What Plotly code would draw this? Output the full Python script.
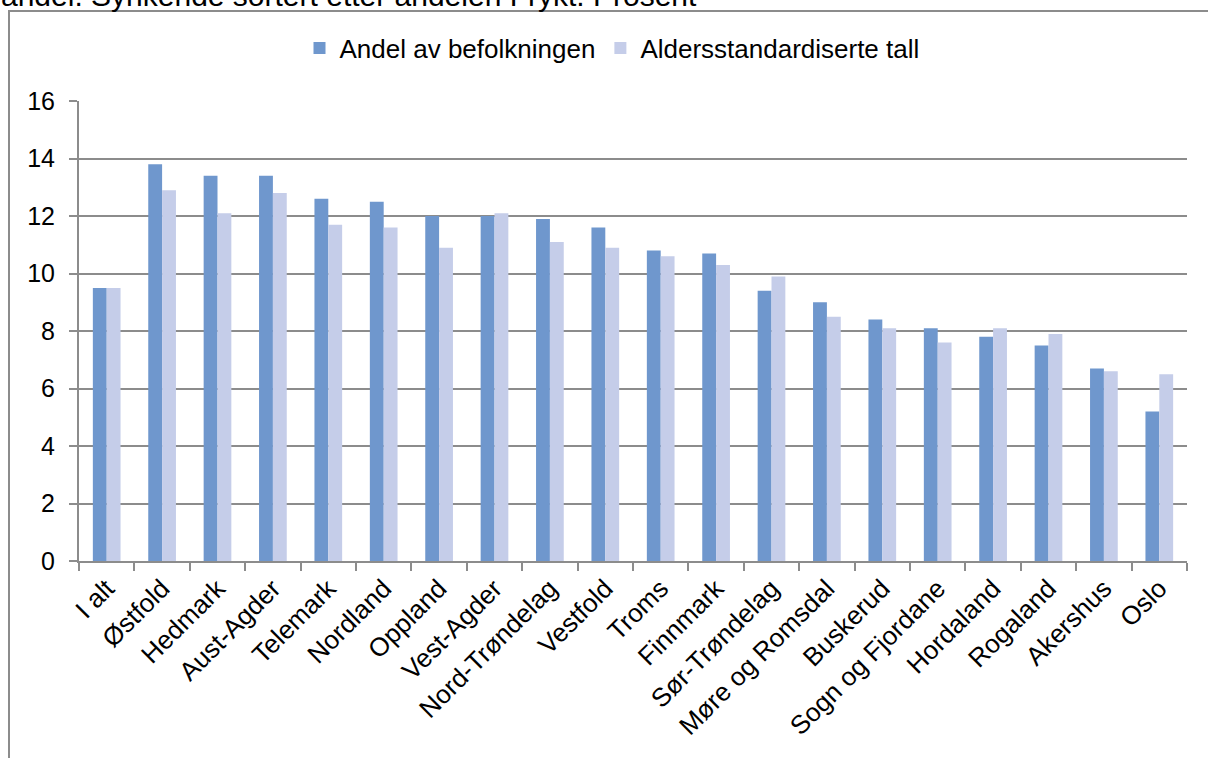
import plotly.graph_objects as go

categories = ["I alt", "Østfold", "Hedmark", "Aust-Agder", "Telemark", "Nordland",
              "Oppland", "Vest-Agder", "Nord-Trøndelag", "Vestfold", "Troms",
              "Finnmark", "Sør-Trøndelag", "Møre og Romsdal", "Buskerud",
              "Sogn og Fjordane", "Hordaland", "Rogaland", "Akershus", "Oslo"]
andel = [9.5, 13.8, 13.4, 13.4, 12.6, 12.5, 12.0, 12.0, 11.9, 11.6, 10.8,
         10.7, 9.4, 9.0, 8.4, 8.1, 7.8, 7.5, 6.7, 5.2]
alders = [9.5, 12.9, 12.1, 12.8, 11.7, 11.6, 10.9, 12.1, 11.1, 10.9, 10.6,
          10.3, 9.9, 8.5, 8.1, 7.6, 8.1, 7.9, 6.6, 6.5]
series_names = ["Andel av befolkningen", "Aldersstandardiserte tall"]
y_ticks = [0, 2, 4, 6, 8, 10, 12, 14, 16]
title_text = "andel. Synkende sortert etter andelen Frykt. Prosent"

W, H = 1208, 758
L, R, T, B = 79, 1187, 101, 561
FONT = "Liberation Sans, Arial, sans-serif"


def px(x):
    return (x - L) / (R - L)


def py(y):
    return (B - y) / (B - T)


fig = go.Figure()
fig.add_trace(go.Bar(x=categories, y=andel, name=series_names[0],
                     marker=dict(color="#6F97CD", line=dict(width=0))))
fig.add_trace(go.Bar(x=categories, y=alders, name=series_names[1],
                     marker=dict(color="#C5CDE9", line=dict(width=0))))

fig.update_layout(
    width=W, height=H,
    margin=dict(l=L, r=W - R, t=T, b=H - B, pad=0),
    paper_bgcolor="white", plot_bgcolor="white",
    barmode="group", bargap=0.5, bargroupgap=0,
    font=dict(family=FONT, size=24, color="black"),
    showlegend=True,
    legend=dict(orientation="h", x=px(612), xanchor="center", y=py(48), yanchor="middle",
                font=dict(size=26), itemwidth=30, bgcolor="rgba(0,0,0,0)",
                traceorder="normal"),
    xaxis=dict(type="category", tickangle=-45, showline=True, linecolor="#8C8C8C",
               linewidth=2, ticks="outside", tickson="boundaries", ticklen=8,
               tickcolor="#8C8C8C", tickwidth=2, showgrid=False,
               tickfont=dict(size=26), fixedrange=True),
    yaxis=dict(range=[0, 16], tickvals=y_ticks, showline=True, linecolor="#8C8C8C",
               linewidth=2, ticks="outside", ticklen=8, tickcolor="#8C8C8C",
               tickwidth=2, showgrid=True, gridcolor="#8C8C8C", gridwidth=2,
               zeroline=False, tickfont=dict(size=25), ticklabelstandoff=9,
               fixedrange=True),
    shapes=[dict(type="rect", xref="paper", yref="paper",
                 x0=px(9), x1=px(1240), y0=py(790), y1=py(11),
                 line=dict(color="#8C8C8C", width=2), fillcolor="rgba(0,0,0,0)",
                 layer="below")],
    annotations=[dict(text=title_text, xref="paper", yref="paper",
                      x=px(-1), xanchor="left", y=py(14), yanchor="bottom",
                      showarrow=False, font=dict(size=30, color="black"))],
)

fig.write_html("out.html", config={"displayModeBar": False},
               post_script="document.body.style.margin='0px';")
